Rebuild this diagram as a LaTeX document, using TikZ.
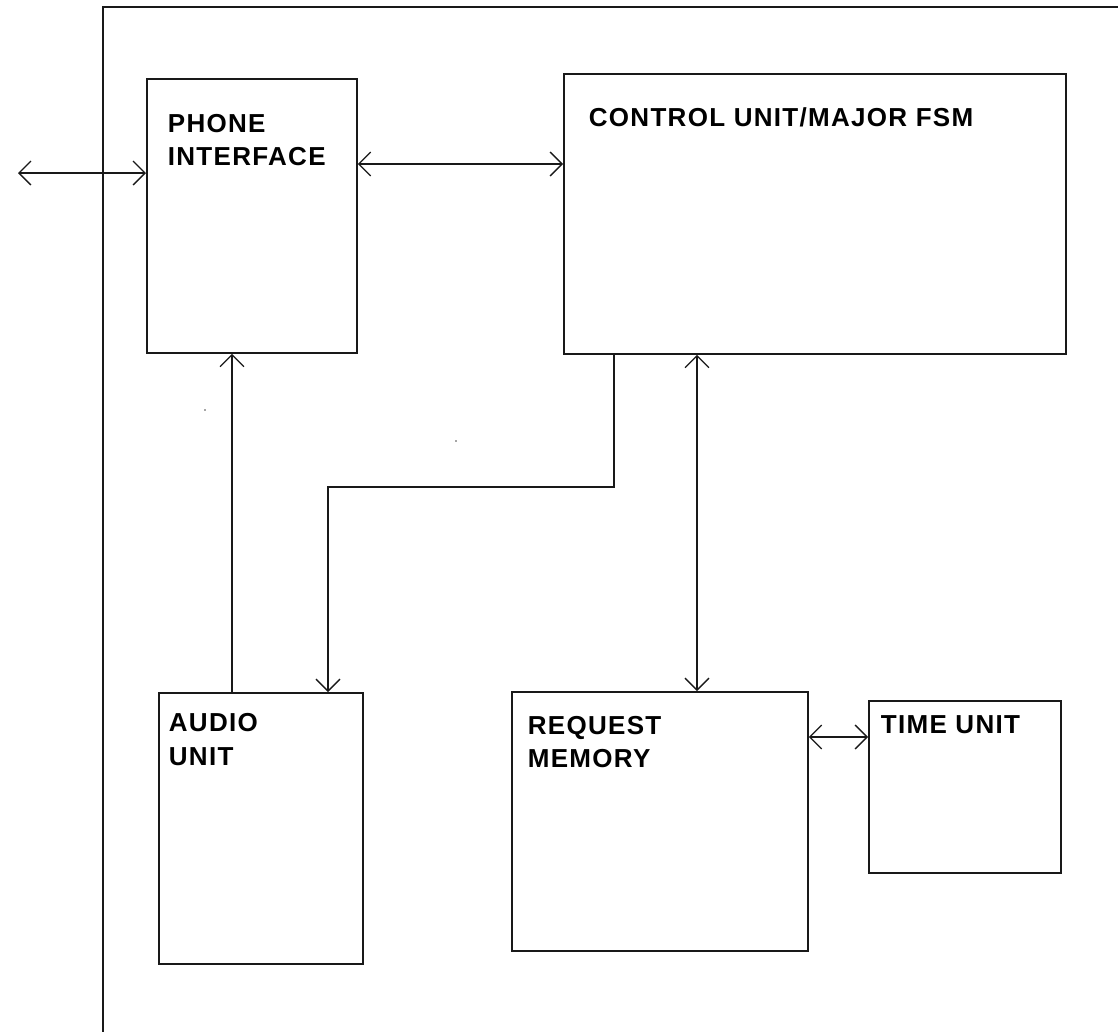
\documentclass[tikz,border=0pt]{standalone}
\usepackage{fontspec}
\setmainfont{Liberation Sans}
\newfontfamily\lblfont[LetterSpace=5]{Liberation Sans}
\usetikzlibrary{arrows.meta}
\begin{document}
\begin{tikzpicture}[x=1pt,y=-1pt,
  line width=1.8pt, draw=black!90,
  >={Straight Barb[length=12pt,width=24pt,line width=1.3pt]},
  box/.style={draw=black!90, line width=1.8pt, rectangle, inner sep=0pt, anchor=north west},
  lbl/.style={anchor=base west, inner sep=0pt, font=\lblfont\bfseries\fontsize{26}{33}\selectfont, text=black}]
\useasboundingbox (0,0) rectangle (1118,1031);
\clip (0,0) rectangle (1118,1031);
\fill[white] (0,0) rectangle (1118,1031);
% outer frame
\draw[line width=1.8pt] (103,1040) -- (103,7) -- (1130,7);
% boxes
\node[box, minimum width=210pt, minimum height=274pt] (phone) at (146,78) {};
\node[box, minimum width=502pt, minimum height=280pt] (ctrl) at (563,73) {};
\node[box, minimum width=204pt, minimum height=271pt] (audio) at (158,692) {};
\node[box, minimum width=296pt, minimum height=259pt] (req) at (511,691) {};
\node[box, minimum width=192pt, minimum height=172pt] (time) at (868,700) {};
% labels
\node[lbl] (l1) at (167,132) {PHONE};
\node[lbl] (l2) at (167,165) {INTERFACE};
\node[lbl] (l3) at (588,126) {CONTROL UNIT/MAJOR FSM};
\node[lbl] (l4) at (168,731) {AUDIO};
\node[lbl] (l5) at (168,765) {UNIT};
\node[lbl] (l6) at (527,734) {REQUEST};
\node[lbl] (l7) at (527,767) {MEMORY};
\node[lbl] (l8) at (880,733) {TIME UNIT};
% helper coordinates
\coordinate (ext) at (18,173);
\coordinate (ya) at (0,173);
\coordinate (yb) at (0,164);
\coordinate (xa) at (232,0);
\coordinate (xc) at (614,0);
\coordinate (yd) at (0,487);
\coordinate (xd) at (328,0);
\coordinate (xe) at (697,0);
\coordinate (yf) at (0,737);
% connectors
\draw[<->] (ext) -- (phone.west |- ya);
\draw[<->] (phone.east |- yb) -- (ctrl.west |- yb);
\draw[->] (audio.north -| xa) -- (phone.south -| xa);
\draw[->] (ctrl.south -| xc) -- (xc |- yd) -- (xd |- yd) -- (audio.north -| xd);
\draw[<->] (ctrl.south -| xe) -- (req.north -| xe);
\draw[<->] (req.east |- yf) -- (time.west |- yf);
% stray specks
\fill[black!70] (205,410) circle (0.9pt);
\fill[black!70] (456,441) circle (0.9pt);
\end{tikzpicture}
\end{document}
